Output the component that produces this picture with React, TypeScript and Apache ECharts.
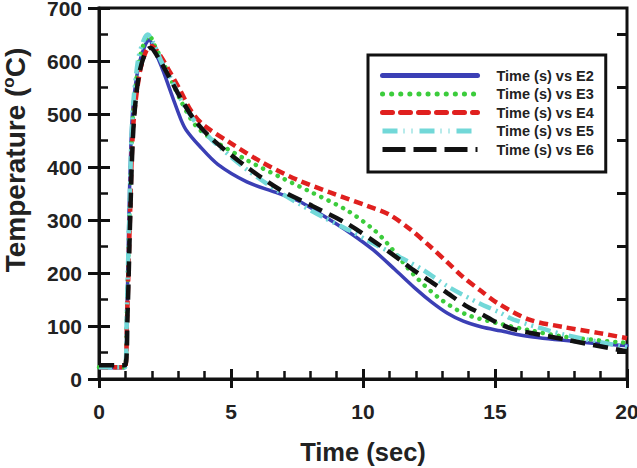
import React, { useEffect, useRef } from "react";
import * as echarts from "echarts";

// Thermocouple readings, time in seconds vs temperature in °C
const timeE2 = [0, 0.5, 0.98, 1.05, 1.12, 1.21, 1.3, 1.5, 1.75, 1.9, 2.1, 2.4, 2.8, 3.1, 3.3, 3.8, 4.5, 5.6, 6.7, 7.6, 8.5, 9.5, 10.4, 11.2, 12.0, 12.6, 13.2, 13.8, 14.5, 15.2, 16.3, 18.2, 20];
const tempE2 = [21, 21, 21, 100, 280, 445, 520, 590, 630, 640, 620, 585, 530, 490, 470, 440, 405, 372, 352, 335, 308, 276, 243, 207, 170, 145, 124, 109, 98, 91, 80, 70, 63];

const timeE3 = [0, 0.98, 1.05, 1.15, 1.28, 1.5, 1.75, 1.9, 2.1, 2.5, 3.07, 3.6, 4.2, 5.6, 6.86, 8.1, 9.4, 10.4, 10.9, 11.9, 12.9, 13.9, 15.2, 16.3, 17.6, 20];
const tempE3 = [22, 22, 110, 300, 490, 595, 640, 648, 630, 590, 528, 482, 455, 413, 381, 351, 318, 282, 257, 198, 152, 122, 104, 92, 80, 68];

const timeE4 = [0, 0.98, 1.06, 1.17, 1.3, 1.55, 1.8, 2.0, 2.3, 2.7, 3.07, 3.5, 3.94, 4.96, 6.2, 7.5, 8.75, 10.15, 11.0, 11.8, 12.5, 13.2, 13.8, 14.5, 15.1, 16.3, 17.6, 18.9, 20];
const tempE4 = [22, 22, 110, 300, 480, 580, 620, 628, 612, 578, 545, 505, 480, 446, 408, 376, 352, 327, 310, 282, 252, 220, 192, 165, 143, 112, 98, 87, 77];

const timeE5 = [0, 0.98, 1.05, 1.15, 1.27, 1.48, 1.7, 1.85, 2.05, 2.4, 2.8, 3.07, 3.6, 4.3, 5.6, 6.86, 7.6, 8.5, 9.5, 10.15, 11.0, 11.7, 12.3, 13.2, 14.4, 15.2, 15.7, 17.6, 20];
const tempE5 = [22, 22, 120, 310, 500, 602, 640, 650, 635, 595, 560, 530, 488, 450, 395, 352, 330, 305, 280, 262, 240, 222, 205, 175, 143, 125, 112, 84, 60];

const timeE6 = [0, 0.98, 1.08, 1.18, 1.3, 1.5, 1.75, 1.95, 2.2, 2.6, 3.07, 3.6, 4.3, 5.6, 6.86, 8.1, 9.4, 10.5, 11.4, 11.9, 12.65, 13.2, 13.9, 14.4, 15.1, 15.7, 17.6, 20];
const tempE6 = [26, 26, 120, 300, 470, 570, 615, 625, 610, 575, 532, 490, 452, 400, 357, 326, 293, 257, 225, 206, 181, 162, 138, 125, 106, 94, 75, 52];

const seriesNames = ["Time (s) vs E2", "Time (s) vs E3", "Time (s) vs E4", "Time (s) vs E5", "Time (s) vs E6"];
const xTicks = { min: 0, max: 20, step: 5 };
const yTicks = { min: 0, max: 700, step: 100 };

const FONT = "'Liberation Sans', Arial, Helvetica, sans-serif";
const INK = "#111";
const TEXT = "#222";

function pairs(xs: number[], ys: number[]) {
  return xs.map((x, i) => [x, ys[i]]);
}

export default function App() {
  const ref = useRef<HTMLDivElement>(null);

  useEffect(() => {
    if (!ref.current) return;
    const chart = echarts.init(ref.current, undefined, { renderer: "svg" });

    // plot line styles and the (slightly longer) legend swatch patterns
    const styles = [
      { color: "#3b3fb5", width: 3.5, type: "solid", cap: "round", legendType: "solid" },
      { color: "#3ccc3c", width: 4.5, type: [0.1, 8], cap: "round", legendType: [0.1, 9] },
      { color: "#e0201f", width: 4.5, type: [9, 5], cap: "butt", legendType: [10, 8] },
      { color: "#72d8d8", width: 4.5, type: [13, 5, 2, 5, 2, 5], cap: "butt", legendType: [15, 6, 1, 7, 1, 7] },
      { color: INK, width: 4.5, type: [15, 8], cap: "butt", legendType: [23, 8] },
    ];
    const data = [
      pairs(timeE2, tempE2),
      pairs(timeE3, tempE3),
      pairs(timeE4, tempE4),
      pairs(timeE5, tempE5),
      pairs(timeE6, tempE6),
    ];

    const labelStyle = {
      fontFamily: FONT,
      fontWeight: "bold" as const,
      fontSize: 21,
      color: TEXT,
    };

    chart.setOption({
      animation: false,
      backgroundColor: "#fff",
      grid: {
        left: 99,
        right: 10,
        top: 8,
        bottom: 89,
        show: true,
        borderColor: INK,
        borderWidth: 3,
        backgroundColor: "transparent",
        outerBoundsMode: "none",
      },
      graphic: [
        {
          type: "text",
          x: 15,
          y: 160,
          rotation: Math.PI / 2,
          style: {
            text: "Temperature ({sup|o}C)",
            fontFamily: FONT,
            fontWeight: "bold",
            fontSize: 28,
            fill: TEXT,
            align: "center",
            verticalAlign: "middle",
            rich: {
              sup: { fontFamily: FONT, fontWeight: "bold", fontSize: 17, fill: TEXT, verticalAlign: "top", lineHeight: 30 },
            },
          },
        },
      ],
      legend: {
        orient: "vertical",
        left: 368,
        top: 55,
        data: seriesNames.map((name, i) => ({
          name,
          itemStyle: { opacity: 0 },
          lineStyle: {
            width: 5,
            type: styles[i].legendType,
            cap: i === 1 || i === 2 ? "round" : styles[i].cap,
          },
        })),
        itemStyle: { opacity: 0 },
        borderColor: INK,
        borderWidth: 3,
        backgroundColor: "#fff",
        padding: [13, 12, 15, 12],
        itemWidth: 95,
        itemHeight: 14,
        itemGap: 3.5,
        textStyle: {
          fontFamily: FONT,
          fontWeight: "bold",
          fontSize: 14.5,
          color: TEXT,
          padding: [0, 0, 0, 14],
        },
      },
      xAxis: [
        {
          type: "value",
          position: "bottom",
          min: xTicks.min,
          max: xTicks.max,
          interval: xTicks.step,
          name: "Time (sec)",
          nameLocation: "middle",
          nameGap: 60,
          nameTextStyle: { ...labelStyle, fontSize: 25.5 },
          axisLine: { show: true, lineStyle: { color: INK, width: 3 } },
          axisTick: { show: true, inside: true, length: 10, lineStyle: { color: INK, width: 3 } },
          minorTick: { show: true, splitNumber: 5, length: 8, lineStyle: { color: INK, width: 2.5 } },
          axisLabel: { ...labelStyle, margin: 22 },
          splitLine: { show: false },
          minorSplitLine: { show: false },
        },
        {
          type: "value",
          position: "bottom",
          min: xTicks.min,
          max: xTicks.max,
          interval: xTicks.step,
          axisLine: { show: false },
          axisTick: { show: true, inside: false, length: 9, lineStyle: { color: INK, width: 3 } },
          axisLabel: { show: false },
          splitLine: { show: false },
        },
      ],
      yAxis: [
        {
          type: "value",
          position: "left",
          min: yTicks.min,
          max: yTicks.max,
          interval: yTicks.step,
          axisLine: { show: true, lineStyle: { color: INK, width: 3 } },
          axisTick: { show: true, inside: true, length: 11, lineStyle: { color: INK, width: 3 } },
          minorTick: { show: true, splitNumber: 2, length: 9, lineStyle: { color: INK, width: 2.5 } },
          axisLabel: { ...labelStyle, margin: 17 },
          splitLine: { show: false },
          minorSplitLine: { show: false },
        },
        {
          type: "value",
          position: "left",
          min: yTicks.min,
          max: yTicks.max,
          interval: yTicks.step,
          axisLine: { show: false },
          axisTick: { show: true, inside: false, length: 11, lineStyle: { color: INK, width: 3 } },
          axisLabel: { show: false },
          splitLine: { show: false },
        },
        {
          type: "value",
          position: "right",
          min: yTicks.min,
          max: yTicks.max,
          interval: yTicks.step,
          axisLine: { show: false },
          axisTick: { show: false, inside: true },
          minorTick: { show: true, splitNumber: 2, length: 10, lineStyle: { color: INK, width: 3 } },
          axisLabel: { show: false },
          splitLine: { show: false },
          minorSplitLine: { show: false },
        },
      ],
      series: seriesNames.map((name, i) => ({
        type: "line",
        name,
        xAxisIndex: 0,
        yAxisIndex: 0,
        showSymbol: false,
        symbol: "none",
        smooth: 0.3,
        z: 3,
        color: styles[i].color,
        data: data[i],
        lineStyle: {
          color: styles[i].color,
          width: styles[i].width,
          type: styles[i].type,
          cap: styles[i].cap,
        },
      })),
    });

    return () => chart.dispose();
  }, []);

  return (
    <div
      ref={ref}
      style={{ position: "absolute", left: 0, top: 0, width: 637, height: 468 }}
    />
  );
}
